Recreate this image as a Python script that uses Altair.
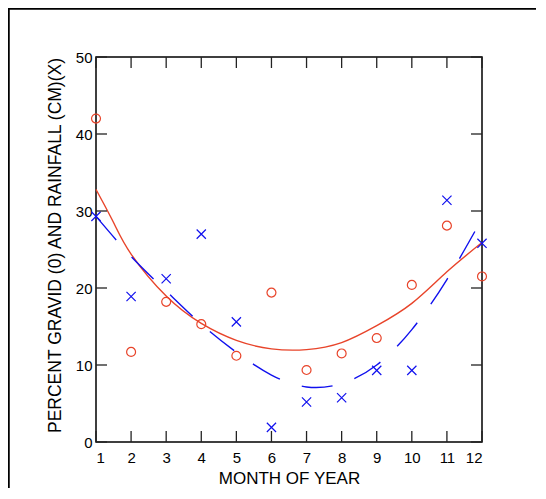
import altair as alt
import pandas as pd

# ---- data ----
months = list(range(1, 13))
gravid = [42.0, 11.7, 18.2, 15.3, 11.2, 19.4, 9.35, 11.5, 13.5, 20.4, 28.1, 21.5]
rain = [29.3, 18.9, 21.2, 27.0, 15.6, 1.9, 5.2, 5.75, 9.3, 9.3, 31.4, 25.8]

# fitted curves as drawn in the reference
gravid_curve_x = [1, 1.5, 2, 3, 4, 5, 6, 7, 8, 9, 10, 11, 12]
gravid_curve = [32.8, 28.5, 24.4, 18.95, 15.4, 13.2, 12.1, 12.0, 12.9, 15.1, 18.0, 22.1, 25.9]
rain_curve_x = months
rain_curve = [29.3, 24.1, 19.6, 15.3, 11.65, 8.7, 7.15, 7.6, 10.0, 14.6, 21.1, 29.0]

x_ticks = list(range(1, 13))
y_ticks = [0, 10, 20, 30, 40, 50]

RED = "#e8442a"
BLUE = "#1010ee"
FONT = "Liberation Sans"
W, H = 386, 385

pts = pd.DataFrame({"month": months, "gravid": gravid, "rain": rain})
gcurve = pd.DataFrame({"month": gravid_curve_x, "gc": gravid_curve})
rcurve = pd.DataFrame({"month": rain_curve_x, "rc": rain_curve})
xt = pd.DataFrame({"month": x_ticks})
yt = pd.DataFrame({"value": y_ticks})

xs = alt.Scale(domain=[1, 12], nice=False, zero=False)
ys = alt.Scale(domain=[0, 50], nice=False, zero=False)

xaxis = alt.Axis(values=x_ticks, format="d", domain=False, ticks=False, grid=False,
                 labelFont=FONT, labelFontSize=15, labelColor="black", labelPadding=8,
                 title="MONTH OF YEAR", titleFont=FONT, titleFontSize=17,
                 titleFontWeight="normal", titleColor="black", titlePadding=5)
yaxis = alt.Axis(values=y_ticks, format="d", domain=False, ticks=False, grid=False,
                 labelFont=FONT, labelFontSize=15, labelColor="black", labelPadding=4,
                 title="PERCENT GRAVID (0) AND RAINFALL (CM)(X)", titleFont=FONT,
                 titleFontSize=17.5, titleFontWeight="normal", titleColor="black",
                 titlePadding=11, titleY=188)

X = lambda f="month": alt.X(f + ":Q", scale=xs, axis=xaxis)
Y = lambda f: alt.Y(f + ":Q", scale=ys, axis=yaxis)

frame = alt.Chart(alt.Data(values=[{"a": 1}])).mark_rect(
    filled=False, stroke="black", strokeWidth=2.5, clip=False
).encode(x=alt.value(-87.5), x2=alt.value(700), y=alt.value(-48.5), y2=alt.value(700))

red_line = alt.Chart(gcurve).mark_line(color=RED, strokeWidth=1.4, interpolate="natural").encode(
    x=X(), y=Y("gc"))
blue_line = alt.Chart(rcurve).mark_line(color=BLUE, strokeWidth=1.4, interpolate="natural",
                                        strokeDash=[31, 23]).encode(x=X(), y=Y("rc"))

circles = alt.Chart(pts).mark_point(shape="circle", filled=False, size=80, strokeWidth=1.2,
                                    color=RED, opacity=1).encode(x=X(), y=Y("gravid"))
crosses = alt.Chart(pts).mark_point(shape="M-1,-1L1,1M-1,1L1,-1", filled=False, size=85,
                                    strokeWidth=1.2, color=BLUE, opacity=1).encode(
    x=X(), y=Y("rain"))

TC = "#222222"
tick_b = alt.Chart(xt).mark_rule(color=TC, strokeWidth=1.3).encode(
    x=X(), y=alt.value(H), y2=alt.value(H - 11))
tick_t = alt.Chart(xt).mark_rule(color=TC, strokeWidth=1.3).encode(
    x=X(), y=alt.value(0), y2=alt.value(11))
tick_l = alt.Chart(yt).mark_rule(color=TC, strokeWidth=1.3).encode(
    y=Y("value"), x=alt.value(0), x2=alt.value(11))
tick_r = alt.Chart(yt).mark_rule(color=TC, strokeWidth=1.3).encode(
    y=Y("value"), x=alt.value(W), x2=alt.value(W - 11))

chart = alt.layer(
    frame, red_line, blue_line, circles, crosses, tick_b, tick_t, tick_l, tick_r
).properties(
    width=W, height=H,
    padding={"left": 88, "top": 49, "right": 54, "bottom": 46},
    autosize=alt.AutoSizeParams(type="none"),
    background="white",
).configure_view(stroke="black", strokeWidth=1.5)

chart.save("out.html", embed_options={"renderer": "svg", "actions": False})
